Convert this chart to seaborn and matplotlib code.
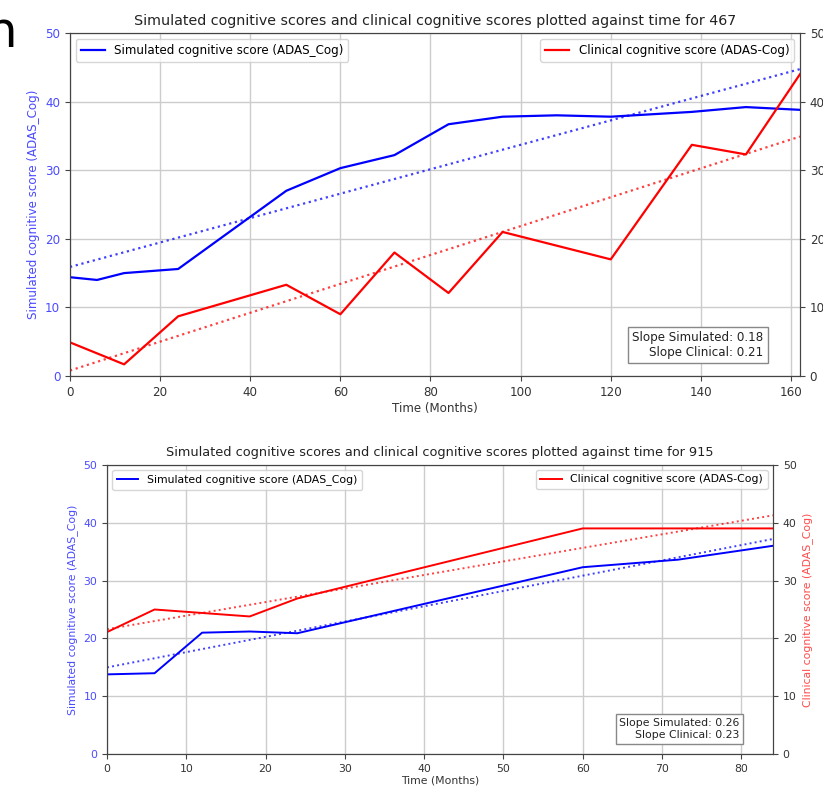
import numpy as np
import pandas as pd
import matplotlib
matplotlib.use("Agg")
import matplotlib.pyplot as plt
import seaborn as sns

# ---------------- data: patient 467 ----------------
t467_sim = [0, 6, 12, 24, 48, 60, 72, 84, 96, 108, 120, 138, 150, 162]
v467_sim = [14.4, 14.0, 15.0, 15.6, 27.0, 30.3, 32.2, 36.7, 37.8, 38.0, 37.8, 38.5, 39.2, 38.8]
t467_cli = [0, 12, 24, 48, 60, 72, 84, 96, 120, 138, 150, 162]
v467_cli = [4.9, 1.7, 8.7, 13.3, 9.0, 18.0, 12.1, 21.0, 17.0, 33.7, 32.3, 44.0]
trend467_sim = [15.9, 0.178]   # intercept, slope
trend467_cli = [0.8, 0.2105]

# ---------------- data: patient 915 ----------------
t915_sim = [0, 6, 12, 18, 24, 60, 72, 84]
v915_sim = [13.8, 14.0, 21.0, 21.2, 20.9, 32.3, 33.6, 36.0]
t915_cli = [0, 6, 18, 24, 60, 72, 84]
v915_cli = [21.1, 25.0, 23.8, 26.9, 39.0, 39.0, 39.0]
trend915_sim = [15.0, 0.264]
trend915_cli = [21.6, 0.234]

y_ticks = [0, 10, 20, 30, 40, 50]

W, H = 823, 786
fig = plt.figure(figsize=(W / 100, H / 100), dpi=100)


def panel(rect, pid, ts, vs, tc, vc, trs, trc, fs, lw, right_label=True, xpad=3):
    ax1 = fig.add_axes(rect)
    ax2 = ax1.twinx()
    xmax = max(max(ts), max(tc))
    xs = [0, xmax]
    sim_df = pd.DataFrame({"t": ts, "v": vs})
    cli_df = pd.DataFrame({"t": tc, "v": vc})
    sns.lineplot(data=sim_df, x="t", y="v", ax=ax1, color="blue", lw=lw,
                 label="Simulated cognitive score (ADAS_Cog)")
    sns.lineplot(x=xs, y=[trs[0] + trs[1] * x for x in xs], ax=ax1,
                 color="blue", lw=lw, ls=":", alpha=0.75)
    sns.lineplot(data=cli_df, x="t", y="v", ax=ax2, color="red", lw=lw,
                 label="Clinical cognitive score (ADAS-Cog)")
    sns.lineplot(x=xs, y=[trc[0] + trc[1] * x for x in xs], ax=ax2,
                 color="red", lw=lw, ls=":", alpha=0.75)
    for ax in (ax1, ax2):
        ax.set_xlim(0, xmax)
        ax.set_ylim(0, 50)
        ax.set_yticks(y_ticks)
        for sp in ax.spines.values():
            sp.set_color("#444444")
    ax1.grid(True, color="#cccccc", lw=1.0)
    ax1.set_axisbelow(True)
    ax1.tick_params(axis="y", labelcolor="#4a4aff", labelsize=fs, color="#444444")
    ax1.tick_params(axis="x", labelsize=fs, labelcolor="#333333", color="#444444")
    ax2.tick_params(axis="y", labelsize=fs, labelcolor="#333333", color="#444444")
    ax1.set_xlabel("Time (Months)", fontsize=fs, color="#333333", labelpad=xpad)
    ax1.set_ylabel("Simulated cognitive score (ADAS_Cog)", fontsize=fs, color="#4a4aff")
    if right_label:
        ax2.set_ylabel("Clinical cognitive score (ADAS_Cog)", fontsize=fs, color="#ff4a4a")
    else:
        ax2.set_ylabel("")
    ax1.set_title(f"Simulated cognitive scores and clinical cognitive scores plotted against time for {pid}",
                  fontsize=fs * 1.19, color="#222222")
    ax1.legend(loc="upper left", fontsize=fs)
    ax2.legend(loc="upper right", fontsize=fs)
    ax2.text(0.95, 0.05,
             f"Slope Simulated: {trs[1]:.2f}\nSlope Clinical: {trc[1]:.2f}",
             transform=ax2.transAxes, ha="right", va="bottom", multialignment="right",
             fontsize=fs, color="#222222",
             bbox=dict(boxstyle="square,pad=0.35", facecolor="white", edgecolor="#888888"))
    return ax1, ax2


# top panel: x 70..800 px, y 33..376 px
panel([70 / W, 1 - 376 / H, 730 / W, 343 / H], 467,
      t467_sim, v467_sim, t467_cli, v467_cli, trend467_sim, trend467_cli, 8.6, 1.6,
      right_label=False, xpad=2.5)
# bottom panel: x 107..773 px, y 464.7..754.3 px
panel([107 / W, 1 - 754.3 / H, 666 / W, 289.6 / H], 915,
      t915_sim, v915_sim, t915_cli, v915_cli, trend915_sim, trend915_cli, 7.8, 1.4,
      right_label=True, xpad=1.0)

fig.text(17 / W, 1 - 47 / H, "n", fontsize=36, ha="right", va="baseline", color="black")

fig.savefig("out.png", dpi=100)
